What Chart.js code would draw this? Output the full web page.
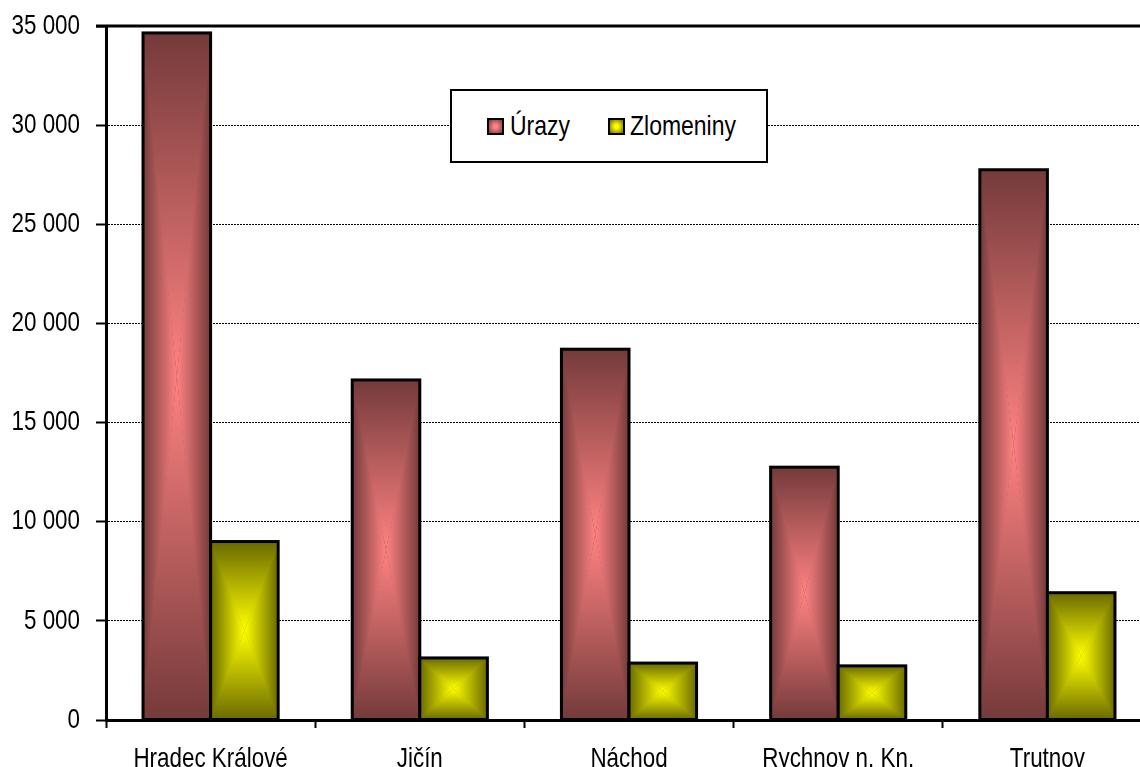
<!DOCTYPE html>
<html>
<head>
<meta charset="utf-8">
<script src="https://cdn.jsdelivr.net/npm/chart.js@4.4.0/dist/chart.umd.min.js"></script>
<style>
  html, body { margin: 0; padding: 0; background: #fff; overflow: hidden; }
  #wrap { position: relative; width: 1152px; height: 767px; }
  #legend {
    position: absolute; left: 450px; top: 89px; width: 314px; height: 70px;
    border: 2px solid #000; background: #fff;
    font-family: "Liberation Sans", Arial, sans-serif;
    font-size: 28px; color: #000;
  }
  #legend .sw { position: absolute; top: 27px; width: 13px; height: 13px; border: 2px solid #000; }
  #legend .tx { position: absolute; top: 18px; line-height: 34px; white-space: nowrap;
                transform: scaleX(0.82); transform-origin: 0 50%; }
</style>
</head>
<body>
<div id="wrap">
  <canvas id="chart" width="1152" height="767"></canvas>
  <div id="legend"></div>
</div>
<script>
const categories = ['Hradec Králové', 'Jičín', 'Náchod', 'Rychnov n. Kn.', 'Trutnov'];
const seriesNames = ['Úrazy', 'Zlomeniny'];
const urazy = [34650, 17150, 18700, 12750, 27750];
const zlomeniny = [9000, 3130, 2870, 2730, 6420];
const yTicks = [0, 5000, 10000, 15000, 20000, 25000, 30000, 35000];

const FONT = '"Liberation Sans", Arial, sans-serif';

// dark edge / bright centre of each series
const shades = [
  { dark: '#743a3a', light: '#ff8282' },
  { dark: '#6a6a00', light: '#ffff00' },
];

function fmt(v) {
  return String(v).replace(/\B(?=(\d{3})+(?!\d))/g, ' ');
}

// paints every bar with a "from centre" rectangular gradient, then a black outline
const gradientBars = {
  id: 'gradientBars',
  afterDatasetsDraw(chart) {
    const ctx = chart.ctx;
    chart.data.datasets.forEach((ds, i) => {
      const meta = chart.getDatasetMeta(i);
      const c = shades[i];
      meta.data.forEach(bar => {
        const p = bar.getProps(['x', 'y', 'base', 'width'], true);
        const L = p.x - p.width / 2, R = p.x + p.width / 2;
        const T = Math.min(p.y, p.base), B = Math.max(p.y, p.base);
        const cx = (L + R) / 2, cy = (T + B) / 2;
        ctx.save();
        ctx.beginPath();
        ctx.rect(L, T, R - L, B - T);
        ctx.clip();
        ctx.fillStyle = c.dark;
        ctx.fillRect(L, T, R - L, B - T);
        const tri = (a, b, x0, y0) => {
          const g = ctx.createLinearGradient(x0, y0, cx, cy);
          g.addColorStop(0, c.dark);
          g.addColorStop(1, c.light);
          ctx.fillStyle = g;
          ctx.beginPath();
          ctx.moveTo(a[0], a[1]);
          ctx.lineTo(b[0], b[1]);
          ctx.lineTo(cx, cy);
          ctx.closePath();
          ctx.fill();
        };
        // sides first, then top/bottom slightly widened to hide the seams
        tri([L, T], [L, B], L, cy);
        tri([R, T], [R, B], R, cy);
        tri([L - 1.5, T], [R + 1.5, T], cx, T);
        tri([L - 1.5, B], [R + 1.5, B], cx, B);
        ctx.restore();
        ctx.save();
        ctx.lineWidth = 3;
        ctx.strokeStyle = '#000';
        ctx.strokeRect(L, T, R - L, B - T);
        ctx.restore();
      });
    });
  }
};

// solid frame line along the top of the plot
const topLine = {
  id: 'topLine',
  afterDraw(chart) {
    const { ctx, chartArea } = chart;
    ctx.save();
    ctx.strokeStyle = '#000';
    ctx.lineWidth = 3;
    ctx.beginPath();
    ctx.moveTo(chartArea.left - 10, chartArea.top);
    ctx.lineTo(chartArea.right + 5, chartArea.top);
    ctx.stroke();
    ctx.restore();
  }
};

const ctx = document.getElementById('chart').getContext('2d');

// no narrow font installed: squeeze canvas text horizontally around its anchor
const rawFillText = ctx.fillText;
ctx.fillText = function (t, x, y, mw) {
  this.save();
  this.translate(x, y);
  this.scale(0.8, 1);
  rawFillText.call(this, t, 0, 0);
  this.restore();
};

new Chart(ctx, {
  type: 'bar',
  data: {
    labels: categories,
    datasets: [
      { label: seriesNames[0], data: urazy, backgroundColor: 'rgba(0,0,0,0)', borderWidth: 0 },
      { label: seriesNames[1], data: zlomeniny, backgroundColor: 'rgba(0,0,0,0)', borderWidth: 0 },
    ],
  },
  options: {
    responsive: false,
    animation: false,
    devicePixelRatio: 1,
    categoryPercentage: 0.646,
    barPercentage: 1.0,
    layout: { padding: { top: 26, right: 0, left: 0, bottom: 0 } },
    plugins: {
      legend: { display: false },
      tooltip: { enabled: false },
    },
    scales: {
      x: {
        afterFit: s => { s.height = 47; s.paddingLeft = 0; s.paddingRight = 0; },
        grid: {
          display: true,
          drawOnChartArea: false,
          drawTicks: true,
          tickLength: 8,
          tickColor: '#000',
          tickWidth: 2,
        },
        border: { display: true, color: '#000', width: 3 },
        ticks: {
          color: '#000',
          padding: 14,
          maxRotation: 0,
          autoSkip: false,
          font: { family: FONT, size: 28 },
        },
      },
      y: {
        min: 0,
        max: 35000,
        afterFit: s => { s.width = 106; s.paddingTop = 0; s.paddingBottom = 0; },
        afterBuildTicks: s => { s.ticks = yTicks.map(v => ({ value: v })); },
        grid: {
          color: '#000',
          lineWidth: 1,
          drawTicks: true,
          tickLength: 10,
          tickColor: '#000',
          tickWidth: 2,
          tickBorderDash: [],
        },
        border: { display: true, color: '#000', width: 3, dash: [2, 1] },
        ticks: {
          color: '#000',
          padding: 16,
          font: { family: FONT, size: 28 },
          callback: v => fmt(v),
        },
      },
    },
  },
  plugins: [gradientBars, topLine],
});

// legend built from the series names
const legend = document.getElementById('legend');
const swLeft = [35, 156];
const txLeft = [58, 178];
seriesNames.forEach((name, i) => {
  const sw = document.createElement('span');
  sw.className = 'sw';
  sw.style.left = swLeft[i] + 'px';
  sw.style.background = 'radial-gradient(circle, ' + shades[i].light + ' 20%, ' + shades[i].dark + ' 100%)';
  const tx = document.createElement('span');
  tx.className = 'tx';
  tx.style.left = txLeft[i] + 'px';
  tx.textContent = name;
  legend.appendChild(sw);
  legend.appendChild(tx);
});
</script>
</body>
</html>
